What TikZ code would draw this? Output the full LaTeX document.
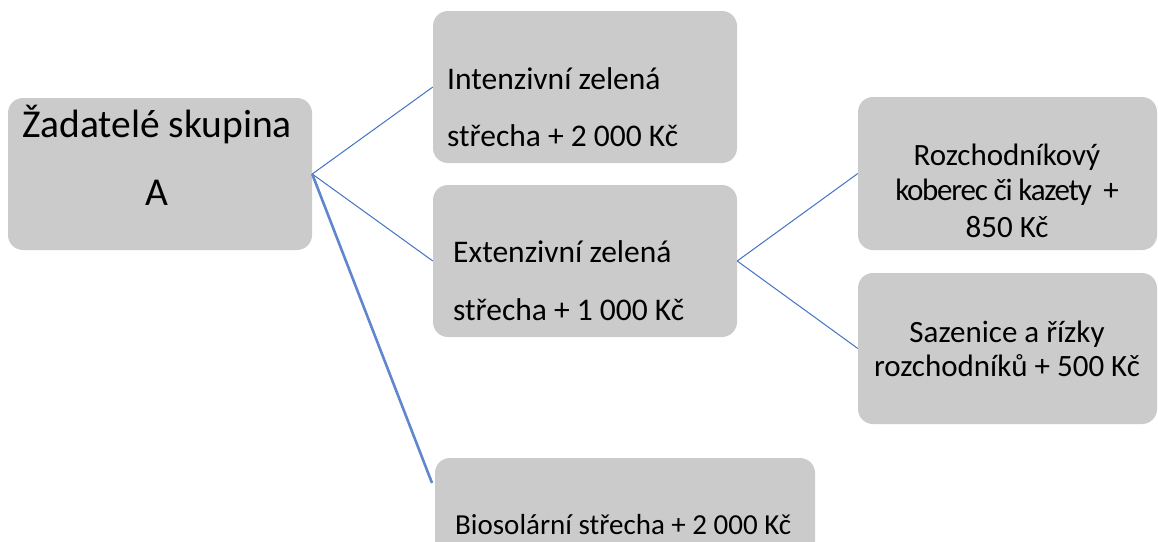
\documentclass[tikz,border=0pt]{standalone}
\usepackage{fontspec}
\setmainfont{Carlito}
\definecolor{boxgray}{HTML}{CBCBCB}
\definecolor{linkblue}{HTML}{4472C4}
\begin{document}
\begin{tikzpicture}[x=1pt,y=-1pt,
  box/.style={draw=none, fill=boxgray, rounded corners=15pt, inner sep=0pt},
  conn/.style={draw=linkblue, line width=1pt},
  thickconn/.style={draw=linkblue!85, line width=2.6pt},
  midtxt/.style={inner sep=0pt, text=black, font=\fontsize{31.5}{38}\selectfont},
  txt/.style={inner sep=0pt, text=black, font=\fontsize{31}{38}\selectfont},
  biotxt/.style={inner sep=0pt, text=black, font=\fontsize{29}{36}\selectfont},
  bigtxt/.style={inner sep=0pt, text=black, font=\fontsize{39.5}{48}\selectfont}]
\useasboundingbox (0,0) rectangle (1158,541);
\clip (0,0) rectangle (1158,541);
\fill[white] (0,0) rectangle (1158,541);

% boxes
\node[box, minimum width=304pt, minimum height=152pt] (A) at (160,174) {};
\node[box, minimum width=304pt, minimum height=152pt] (Int) at (585,87) {};
\node[box, minimum width=304pt, minimum height=152pt] (Ext) at (585,261) {};
\node[box, minimum width=299pt, minimum height=153pt] (Roz) at (1007.5,173.5) {};
\node[box, minimum width=299pt, minimum height=151pt] (Saz) at (1007.5,348.5) {};
\node[box, minimum width=380pt, minimum height=142pt] (Bio) at (625,529) {};

% texts
\node[bigtxt, anchor=base] (At1) at (157,137) {Žadatelé skupina};
\node[bigtxt, anchor=base] (At2) at (157,205) {A};

\node[midtxt, anchor=base west] (It1) at (447,89) {Intenzivní zelená};
\node[midtxt, anchor=base west] (It2) at (447,146) {střecha + 2 000 Kč};

\node[midtxt, anchor=base west] (Et1) at (453,262) {Extenzivní zelená};
\node[midtxt, anchor=base west] (Et2) at (453,320) {střecha + 1 000 Kč};

\node[txt, anchor=base] (Rt1) at (1007,165) {Rozchodníkový};
\node[txt, anchor=base] (Rt2) at (1007,200) {\addfontfeatures{LetterSpace=-4}koberec či kazety\ \ +};
\node[txt, anchor=base] (Rt3) at (1007,237) {850 Kč};

\node[txt, anchor=base] (St1) at (1007,342) {Sazenice a řízky};
\node[txt, anchor=base] (St2) at (1007,376) {rozchodníků + 500 Kč};

\node[biotxt, anchor=base west] (Bt1) at (455,534) {Biosolární střecha + 2 000 Kč};

% connectors
\coordinate (bioEnd) at (432,483);
\draw[conn] (A.east) -- (Int.west);
\draw[conn] (A.east) -- (Ext.west);
\draw[thickconn] (A.east) -- (bioEnd);
\draw[conn] (Ext.east) -- (Roz.west);
\draw[conn] (Ext.east) -- (Saz.west);
\end{tikzpicture}
\end{document}
